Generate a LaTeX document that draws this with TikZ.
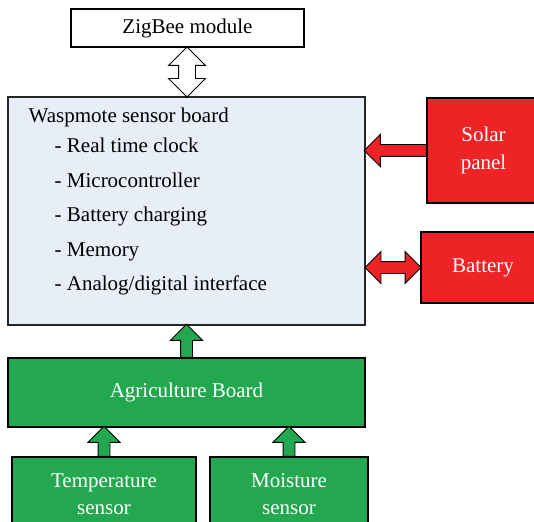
\documentclass[tikz,border=0pt]{standalone}
\usepackage{fontspec}
\setmainfont{Liberation Serif}
\usetikzlibrary{shapes.arrows,calc}

\definecolor{boardblue}{HTML}{E7EEF8}
\definecolor{powerred}{HTML}{EE2326}
\definecolor{agrigreen}{HTML}{23A84F}

\tikzset{
  box/.style={draw, line width=1.3pt, inner sep=0pt, align=center, font=\fontsize{21}{27.5}\selectfont},
  redbox/.style={box, fill=powerred, text=white},
  greenbox/.style={box, fill=agrigreen, text=white},
  fatarrow/.style={single arrow, draw, line width=0.9pt, inner xsep=0pt, inner ysep=5.5pt, outer sep=0pt,
    single arrow head extend=10pt},
  fatdouble/.style={double arrow, draw, line width=0.9pt, inner xsep=0pt, inner ysep=5.5pt, outer sep=0pt,
    double arrow head extend=10pt}
}

\begin{document}
\begin{tikzpicture}[x=1pt, y=-1pt]
  \useasboundingbox (0,0) rectangle (534,521);
  \clip (0,0) rectangle (534,521);

  \node[box, fill=white, minimum width=233pt, minimum height=38pt] (zig) at (187.5,28) {ZigBee module};
  \node[box, fill=boardblue, draw=black!85, minimum width=357pt, minimum height=228pt] (wasp) at (186.5,211) {};
  \node[anchor=north west, inner sep=0pt, align=left, font=\fontsize{21}{34.5}\selectfont] (wasptext) at (28.5,108)
    {Waspmote sensor board\\[-4.5pt]
     \hspace{26pt}- Real time clock\\
     \hspace{26pt}- Microcontroller\\
     \hspace{26pt}- Battery charging\\
     \hspace{26pt}- Memory\\
     \hspace{26pt}- Analog/digital interface};

  \node[redbox, minimum width=113pt, minimum height=105pt] (solar) at (483.5,150.5) {Solar\\panel};
  \node[redbox, minimum width=124pt, minimum height=71pt] (bat) at (483,267.5) {Battery};

  \node[greenbox, minimum width=357pt, minimum height=69pt] (agri) at (186.5,392.5) {Agriculture Board};
  \node[greenbox, minimum width=184pt, minimum height=74pt] (temp) at (104,494) {Temperature\\sensor};
  \node[greenbox, minimum width=158pt, minimum height=74pt] (moist) at (289,494) {Moisture\\sensor};

  \node[fatdouble, fill=white, inner ysep=8pt, double arrow head extend=10pt, minimum height=50pt, rotate=90]
    (zigarrow) at ($(zig.south)!0.5!(wasp.north)$) {};
  \node[fatarrow, fill=powerred, minimum height=62pt, rotate=180, anchor=tail] (solararrow) at (solar.west) {};
  \node[fatdouble, fill=powerred, minimum height=56pt]
    (batarrow) at ($(wasp.east |- bat.west)!0.5!(bat.west)$) {};
  \node[fatarrow, fill=agrigreen, minimum height=33pt, rotate=90, anchor=tail] (agriarrow) at (agri.north) {};
  \node[fatarrow, fill=agrigreen, minimum height=30pt, rotate=90, anchor=tail] (temparrow) at (temp.north) {};
  \node[fatarrow, fill=agrigreen, minimum height=30pt, rotate=90, anchor=tail] (moistarrow) at (moist.north) {};
\end{tikzpicture}
\end{document}
